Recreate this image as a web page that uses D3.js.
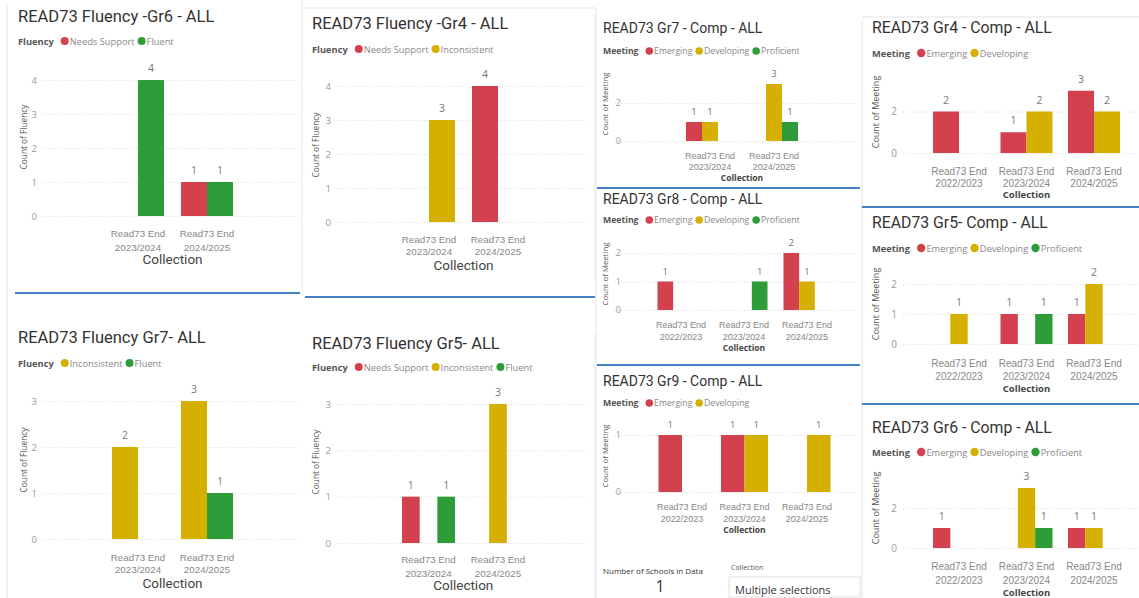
<!DOCTYPE html>
<html><head><meta charset="utf-8">
<script src="https://cdn.jsdelivr.net/npm/d3@7"></script>
<style>
html,body{margin:0;padding:0;background:#fff;}
svg{display:block;font-family:"Open Sans",sans-serif;}
</style></head><body>
<svg id="chart" width="1139" height="598"></svg>
<script>
// ---------- DATA ----------
const cats2 = ["Read73 End 2023/2024", "Read73 End 2024/2025"];
const cats3 = ["Read73 End 2022/2023", "Read73 End 2023/2024", "Read73 End 2024/2025"];

const fluGr6Series = ["Needs Support", "Fluent"];
const fluGr6Values = { "Needs Support": [null, 1], "Fluent": [4, 1] };

const fluGr4Series = ["Needs Support", "Inconsistent"];
const fluGr4Values = { "Needs Support": [null, 4], "Inconsistent": [3, null] };

const fluGr7Series = ["Inconsistent", "Fluent"];
const fluGr7Values = { "Inconsistent": [2, 3], "Fluent": [null, 1] };

const fluGr5Series = ["Needs Support", "Inconsistent", "Fluent"];
const fluGr5Values = { "Needs Support": [1, null], "Inconsistent": [null, 3], "Fluent": [1, null] };

const compGr7Series = ["Emerging", "Developing", "Proficient"];
const compGr7Values = { "Emerging": [1, null], "Developing": [1, 3], "Proficient": [null, 1] };

const compGr8Series = ["Emerging", "Developing", "Proficient"];
const compGr8Values = { "Emerging": [1, null, 2], "Developing": [null, null, 1], "Proficient": [null, 1, null] };

const compGr9Series = ["Emerging", "Developing"];
const compGr9Values = { "Emerging": [1, 1, null], "Developing": [null, 1, 1] };

const compGr4Series = ["Emerging", "Developing"];
const compGr4Values = { "Emerging": [2, 1, 3], "Developing": [null, 2, 2] };

const compGr5Series = ["Emerging", "Developing", "Proficient"];
const compGr5Values = { "Emerging": [null, 1, 1], "Developing": [1, null, 2], "Proficient": [null, 1, null] };

const compGr6Series = ["Emerging", "Developing", "Proficient"];
const compGr6Values = { "Emerging": [1, null, 1], "Developing": [null, 3, 1], "Proficient": [null, 1, null] };

const ticks4 = [0, 1, 2, 3, 4];
const ticks3 = [0, 1, 2, 3];
const ticks02 = [0, 2];
const ticks012 = [0, 1, 2];
const ticks01 = [0, 1];

const schoolsCount = "1";

// ---------- STYLE ----------
const colorOf = {
  "Needs Support": "#D3404E", "Emerging": "#D3404E",
  "Inconsistent": "#D5B000", "Developing": "#D5B000",
  "Fluent": "#2F9C3A", "Proficient": "#2F9C3A"
};
const styles = {
  flu:  { title: 16.5, legend: 9.3, xl: 9.8, yt: 8.3, tick: 9.5, data: 10.5, coll: 13.5, collW: "normal", r: 4 },
  compS:{ title: 14, legend: 8.7, xl: 9, yt: 7.8, tick: 9, data: 9.5, coll: 8.5, collW: "bold", r: 3.8 },
  compL:{ title: 15.8, legend: 9.3, xl: 10, yt: 9, tick: 10, data: 10.5, coll: 9.5, collW: "bold", r: 4.2 }
};

const svg = d3.select("#chart");

function drawPanel(p) {
  const st = styles[p.style];
  const g = svg.append("g");
  // title
  g.append("text").attr("x", p.tx).attr("y", p.ty)
    .style("font-family", "Roboto").style("font-size", st.title + "px")
    .attr("fill", "#333").text(p.title);
  // legend
  let lx = p.tx;
  const lt = g.append("text").attr("x", lx).attr("y", p.ly).attr("dominant-baseline", "central")
    .style("font-weight", "bold").style("font-size", st.legend + "px").attr("fill", "#555").text(p.legendTitle);
  lx += lt.node().getComputedTextLength() + 7;
  p.series.forEach(s => {
    g.append("circle").attr("cx", lx + st.r).attr("cy", p.ly).attr("r", st.r).attr("fill", colorOf[s]);
    const t = g.append("text").attr("x", lx + 2 * st.r + 1).attr("y", p.ly).attr("dominant-baseline", "central")
      .style("font-size", st.legend + "px").attr("fill", "#888").text(s);
    lx += 2 * st.r + 1 + t.node().getComputedTextLength() + 3;
  });
  // scales
  const pad = 1 - p.groupW / p.step;
  const x = d3.scaleBand().domain(p.cats)
    .range([p.c0 - p.step / 2, p.c0 + (p.cats.length - 0.5) * p.step])
    .paddingInner(pad).paddingOuter(pad / 2);
  const xs = d3.scaleBand().domain(p.series).range([0, x.bandwidth()]);
  const y = d3.scaleLinear().domain([0, p.yTop]).range([p.y0, p.yTopPx]);
  // y axis with gridlines
  const ya = g.append("g").attr("transform", `translate(${p.gx0},0)`)
    .call(d3.axisLeft(y).tickValues(p.ticks).tickFormat(d3.format("d"))
      .tickSizeInner(-(p.gx1 - p.gx0)).tickSizeOuter(0).tickPadding(p.gx0 - p.tickX));
  ya.select(".domain").remove();
  ya.selectAll(".tick line").attr("stroke", "#d8d8d8").attr("stroke-dasharray", "1,2");
  ya.selectAll(".tick text").attr("fill", "#999").style("font-size", st.tick + "px")
    .style("font-family", "Open Sans");
  // bars
  const rows = [];
  p.cats.forEach((c, i) => p.series.forEach(s => {
    const v = p.values[s][i];
    if (v != null) rows.push({ c, s, v });
  }));
  g.selectAll("rect.bar").data(rows).enter().append("rect")
    .attr("x", d => x(d.c) + xs(d.s)).attr("width", xs.bandwidth())
    .attr("y", d => y(d.v)).attr("height", d => y(0) - y(d.v))
    .attr("fill", d => colorOf[d.s]);
  g.selectAll("text.dl").data(rows).enter().append("text")
    .attr("x", d => x(d.c) + xs(d.s) + xs.bandwidth() / 2).attr("y", d => y(d.v) - p.dlOff)
    .attr("text-anchor", "middle").attr("fill", "#777").style("font-size", st.data + "px").text(d => d.v);
  // x axis
  const xa = g.append("g").attr("transform", `translate(0,${p.xl1})`)
    .call(d3.axisBottom(x).tickSize(0).tickPadding(0));
  xa.select(".domain").remove();
  xa.selectAll(".tick text").each(function (d) {
    const t = d3.select(this);
    const k = d.lastIndexOf(" ");
    t.text(null).attr("y", 0).attr("dy", null).attr("dominant-baseline", "central")
      .attr("fill", "#888").style("font-size", st.xl + "px");
    t.append("tspan").attr("x", 0).attr("dy", 0).text(d.slice(0, k));
    t.append("tspan").attr("x", 0).attr("dy", (p.xl2 - p.xl1) + "px").text(d.slice(k + 1));
  });
  // x title
  const first = x(p.cats[0]) + x.bandwidth() / 2, last = x(p.cats[p.cats.length - 1]) + x.bandwidth() / 2;
  g.append("text").attr("x", (first + last) / 2).attr("y", p.collY).attr("text-anchor", "middle")
    .attr("dominant-baseline", "central").style("font-size", st.coll + "px").style("font-weight", st.collW)
    .style("font-family", p.style === "flu" ? "Roboto" : "Open Sans")
    .attr("fill", "#444").text("Collection");
  // y title
  g.append("text").attr("transform", `translate(${p.ytx},${p.yty}) rotate(-90)`)
    .attr("text-anchor", "middle").attr("dominant-baseline", "central")
    .style("font-size", st.yt + "px").attr("fill", "#555").text(p.yTitle);
}

// ---------- FRAME LINES ----------
const frame = [
  [7, 5, 7, 598, "#e4e4e4"], [302, 0, 302, 290, "#ececec"], [305, 8, 595, 8, "#e4e4e4"],
  [595, 15, 595, 280, "#e8e8e8"], [595, 333, 595, 598, "#e8e8e8"],
  [596, 8, 596, 598, "#e6ebf2"], [862, 20, 862, 598, "#e8e8e8"], [862, 17, 1139, 17, "#e4e4e4"]
];
frame.forEach(f => svg.append("line").attr("x1", f[0]).attr("y1", f[1]).attr("x2", f[2]).attr("y2", f[3])
  .attr("stroke", f[4]).attr("stroke-width", 1.2));
const blue = [[15, 293, 300], [305, 297, 595], [597, 188, 860], [597, 365, 860], [862, 207, 1139], [862, 404, 1139]];
blue.forEach(b => svg.append("line").attr("x1", b[0]).attr("y1", b[1]).attr("x2", b[2]).attr("y2", b[1])
  .attr("stroke", "#4582C4").attr("stroke-width", 2));

// ---------- PANELS ----------
const panels = [
  { style: "flu", title: "READ73 Fluency -Gr6 - ALL", legendTitle: "Fluency", series: fluGr6Series, values: fluGr6Values,
    cats: cats2, yTitle: "Count of Fluency", yTop: 4, ticks: ticks4,
    tx: 18, ty: 22, ly: 41, y0: 216, yTopPx: 80, c0: 138, step: 69, groupW: 52, gx0: 43, gx1: 300, tickX: 37,
    ytx: 23, yty: 137, xl1: 233, xl2: 247, collY: 259, dlOff: 8 },
  { style: "flu", title: "READ73 Fluency -Gr4 - ALL", legendTitle: "Fluency", series: fluGr4Series, values: fluGr4Values,
    cats: cats2, yTitle: "Count of Fluency", yTop: 4, ticks: ticks4,
    tx: 312, ty: 29, ly: 49, y0: 222, yTopPx: 86, c0: 429, step: 69, groupW: 52, gx0: 337, gx1: 588, tickX: 331,
    ytx: 315, yty: 145, xl1: 239, xl2: 251, collY: 265, dlOff: 8 },
  { style: "flu", title: "READ73 Fluency Gr7- ALL", legendTitle: "Fluency", series: fluGr7Series, values: fluGr7Values,
    cats: cats2, yTitle: "Count of Fluency", yTop: 3, ticks: ticks3,
    tx: 18, ty: 343, ly: 363, y0: 539, yTopPx: 401, c0: 138, step: 69, groupW: 52, gx0: 43, gx1: 300, tickX: 37,
    ytx: 23, yty: 460, xl1: 557, xl2: 569, collY: 583, dlOff: 8 },
  { style: "flu", title: "READ73 Fluency Gr5- ALL", legendTitle: "Fluency", series: fluGr5Series, values: fluGr5Values,
    cats: cats2, yTitle: "Count of Fluency", yTop: 3, ticks: ticks3,
    tx: 312, ty: 349, ly: 367, y0: 543, yTopPx: 404, c0: 428.5, step: 69.5, groupW: 53, gx0: 337, gx1: 588, tickX: 331,
    ytx: 315, yty: 462, xl1: 559, xl2: 573, collY: 585, dlOff: 8 },
  { style: "compS", title: "READ73 Gr7 - Comp - ALL", legendTitle: "Meeting", series: compGr7Series, values: compGr7Values,
    cats: cats2, yTitle: "Count of Meeting", yTop: 2, ticks: ticks02,
    tx: 603, ty: 33, ly: 51, y0: 141, yTopPx: 103, c0: 710, step: 64, groupW: 48, gx0: 615, gx1: 858, tickX: 621,
    ytx: 605, yty: 104, xl1: 156, xl2: 167, collY: 177, dlOff: 7 },
  { style: "compS", title: "READ73 Gr8 - Comp - ALL", legendTitle: "Meeting", series: compGr8Series, values: compGr8Values,
    cats: cats3, yTitle: "Count of Meeting", yTop: 2, ticks: ticks012,
    tx: 603, ty: 204, ly: 220, y0: 310, yTopPx: 253, c0: 681, step: 63, groupW: 47, gx0: 615, gx1: 858, tickX: 621,
    ytx: 605, yty: 274, xl1: 325, xl2: 337, collY: 347, dlOff: 7 },
  { style: "compS", title: "READ73 Gr9 - Comp - ALL", legendTitle: "Meeting", series: compGr9Series, values: compGr9Values,
    cats: cats3, yTitle: "Count of Meeting", yTop: 1, ticks: ticks01,
    tx: 603, ty: 386, ly: 403, y0: 492, yTopPx: 435, c0: 682, step: 62.5, groupW: 47, gx0: 615, gx1: 860, tickX: 621,
    ytx: 605, yty: 456, xl1: 507, xl2: 519, collY: 529, dlOff: 7 },
  { style: "compL", title: "READ73 Gr4 - Comp - ALL", legendTitle: "Meeting", series: compGr4Series, values: compGr4Values,
    cats: cats3, yTitle: "Count of Meeting", yTop: 2, ticks: ticks02,
    tx: 872, ty: 33, ly: 53, y0: 153, yTopPx: 111.5, c0: 959, step: 67.5, groupW: 52, gx0: 903, gx1: 1139, tickX: 897,
    ytx: 875, yty: 112, xl1: 171, xl2: 183, collY: 194, dlOff: 8 },
  { style: "compL", title: "READ73 Gr5- Comp - ALL", legendTitle: "Meeting", series: compGr5Series, values: compGr5Values,
    cats: cats3, yTitle: "Count of Meeting", yTop: 2, ticks: ticks012,
    tx: 872, ty: 228, ly: 248, y0: 344, yTopPx: 284, c0: 959, step: 67.5, groupW: 52, gx0: 903, gx1: 1139, tickX: 897,
    ytx: 875, yty: 304, xl1: 363, xl2: 376, collY: 388, dlOff: 8 },
  { style: "compL", title: "READ73 Gr6 - Comp - ALL", legendTitle: "Meeting", series: compGr6Series, values: compGr6Values,
    cats: cats3, yTitle: "Count of Meeting", yTop: 2, ticks: ticks02,
    tx: 872, ty: 433, ly: 452, y0: 548, yTopPx: 508, c0: 959, step: 67.5, groupW: 52, gx0: 903, gx1: 1139, tickX: 897,
    ytx: 875, yty: 508, xl1: 566, xl2: 580, collY: 592, dlOff: 8 }
];
panels.forEach(drawPanel);

// ---------- CARD + SLICER ----------
svg.append("text").attr("x", 603).attr("y", 570).attr("dominant-baseline", "central")
  .style("font-size", "8px").attr("fill", "#333").text("Number of Schools in Data");
svg.append("text").attr("x", 660).attr("y", 586).attr("text-anchor", "middle").attr("dominant-baseline", "central")
  .style("font-size", "16px").attr("fill", "#333").text(schoolsCount);
svg.append("text").attr("x", 731).attr("y", 567).attr("dominant-baseline", "central")
  .style("font-size", "7px").attr("fill", "#555").text("Collection");
svg.append("rect").attr("x", 729).attr("y", 577).attr("width", 131).attr("height", 20)
  .attr("fill", "none").attr("stroke", "#e2e2e2");
svg.append("text").attr("x", 735).attr("y", 589).attr("dominant-baseline", "central")
  .style("font-size", "11px").attr("fill", "#333").text("Multiple selections");
</script>
</body></html>
